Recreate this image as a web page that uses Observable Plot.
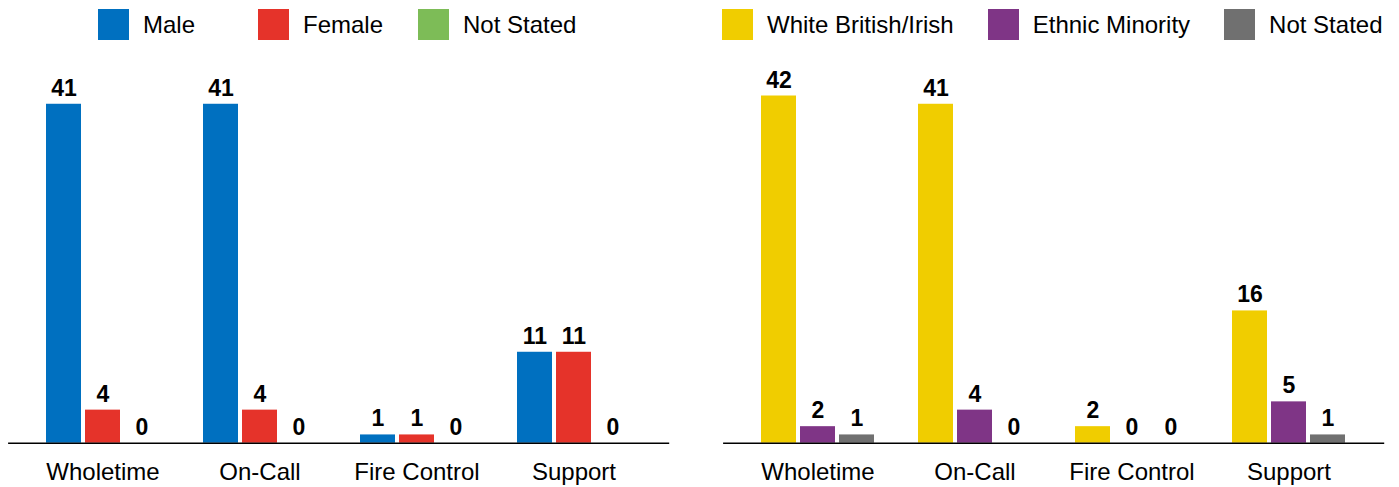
<!DOCTYPE html>
<html><head><meta charset="utf-8">
<script src="https://cdn.jsdelivr.net/npm/d3@7"></script>
<script src="https://cdn.jsdelivr.net/npm/@observablehq/plot@0.6"></script>
<style>
body{margin:0;background:#fff;font-family:"Liberation Sans",Arial,sans-serif;color:#000;}
#wrap{display:flex;width:1399px;height:487px;overflow:hidden;}
.panel{width:684px;flex:none;}
#right{margin-left:31px;}
.legend{height:55px;display:flex;align-items:flex-start;box-sizing:border-box;}
#left .legend{padding-left:98px;}
#left .item{width:160px;}
#left .item:last-child{width:auto;}
#right .legend{padding-left:7px;}
#right .item{margin-right:34px;}
.item{display:flex;align-items:center;height:31px;margin-top:9px;font-size:24px;white-space:nowrap;flex:none;}
.sw{width:31px;height:31px;margin-right:14px;flex:none;}
svg{display:block;}
</style></head><body>
<div id="wrap"><div class="panel" id="left"></div><div class="panel" id="right"></div></div>
<script>
const categories = ["Wholetime", "On-Call", "Fire Control", "Support"];

const genderSeries = ["Male", "Female", "Not Stated"];
const genderColors = ["#0070C0", "#E5332A", "#7DBC57"];
const genderMale = [41, 41, 1, 11];
const genderFemale = [4, 4, 1, 11];
const genderNotStated = [0, 0, 0, 0];

const ethnicSeries = ["White British/Irish", "Ethnic Minority", "Not Stated"];
const ethnicColors = ["#F0CD00", "#7F3586", "#707070"];
const ethnicWhite = [42, 41, 2, 16];
const ethnicMinority = [2, 4, 0, 5];
const ethnicNotStated = [1, 0, 0, 1];

function buildRows(series, valueLists) {
  const rows = [];
  categories.forEach((c, i) => {
    series.forEach((s, j) => rows.push({category: c, series: s, value: valueLists[j][i]}));
  });
  return rows;
}

function makeLegend(container, series, colors) {
  const lg = d3.select(container).append("div").attr("class", "legend");
  series.forEach((s, i) => {
    const it = lg.append("div").attr("class", "item");
    it.append("div").attr("class", "sw").style("background", colors[i]);
    it.append("span").text(s);
  });
}

function makeChart(container, series, colors, valueLists) {
  const data = buildRows(series, valueLists);
  makeLegend(container, series, colors);
  const chart = Plot.plot({
    width: 684,
    height: 432,
    marginLeft: 7,
    marginRight: 16,
    marginTop: 15.7,
    marginBottom: 44.3,
    style: {fontFamily: "'Liberation Sans', Arial, sans-serif", fontSize: "24px", color: "#000", background: "#fff"},
    fx: {domain: categories, axis: "bottom", label: null, tickSize: 0, tickPadding: 20, paddingInner: 0, paddingOuter: 0.1},
    x: {domain: series, axis: null, paddingInner: 0.1, paddingOuter: 0.53},
    y: {domain: [0, 45], axis: null},
    color: {domain: series, range: colors},
    marks: [
      Plot.barY(data, {fx: "category", x: "series", y: "value", fill: "series"}),
      Plot.text(data, {fx: "category", x: "series", y: "value", text: d => String(d.value), lineAnchor: "bottom", dy: -8.5, fontSize: 23, fontWeight: "bold", fill: "#000"}),
      Plot.frame({anchor: "bottom", facet: "super", stroke: "#000", strokeWidth: 1.4, insetLeft: -15.7, insetRight: -16})
    ]
  });
  container.appendChild(chart);
}

makeChart(document.getElementById("left"), genderSeries, genderColors, [genderMale, genderFemale, genderNotStated]);
makeChart(document.getElementById("right"), ethnicSeries, ethnicColors, [ethnicWhite, ethnicMinority, ethnicNotStated]);
</script>
</body></html>
